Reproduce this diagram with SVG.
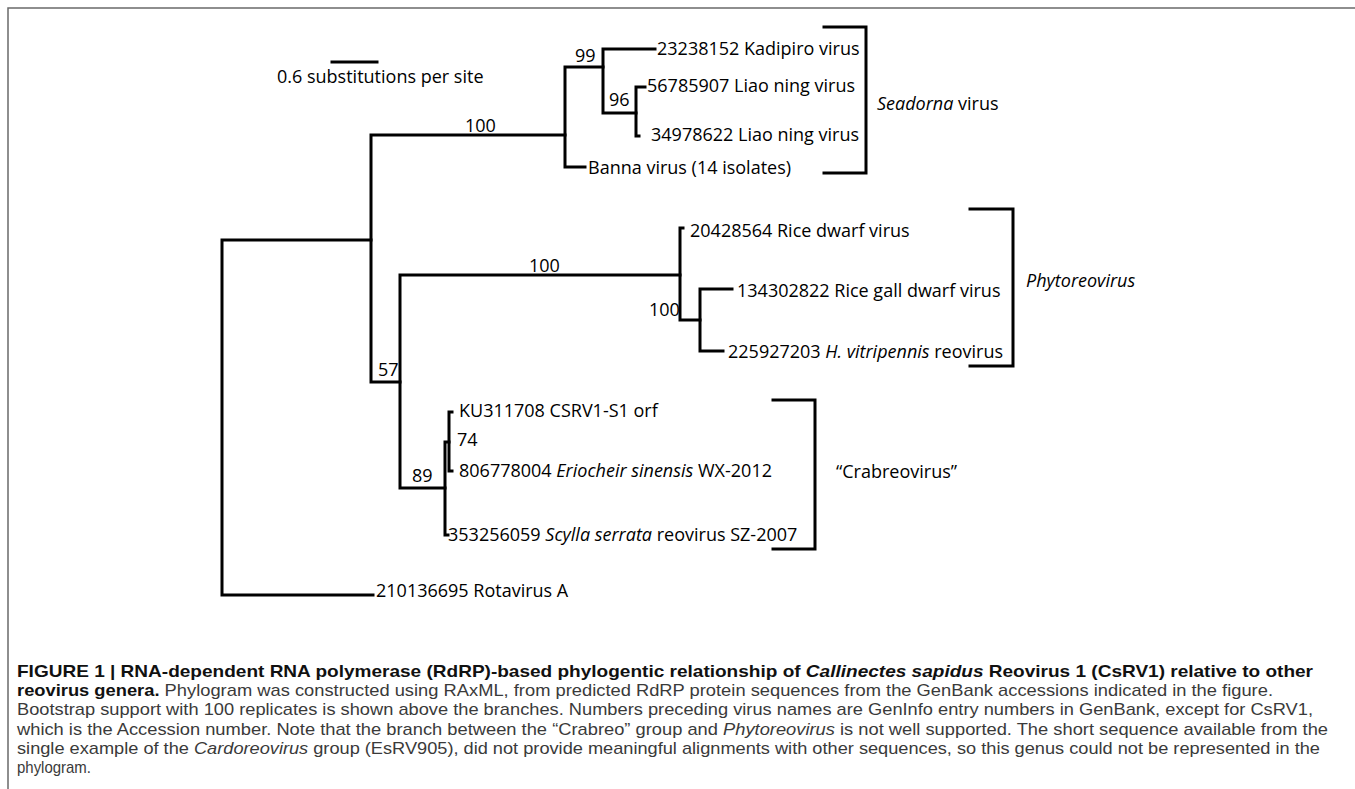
<svg xmlns="http://www.w3.org/2000/svg" width="1355" height="789" viewBox="0 0 1355 789">
<style>
.br{fill:none;stroke:#000;stroke-width:3;stroke-linecap:square;stroke-linejoin:miter}
.t{font-family:"Open Sans","Liberation Sans",sans-serif;font-size:18px;fill:#000}
.cap{font-family:"Liberation Sans",Arial,sans-serif;font-size:17px;fill:#3a3a3a}
.b{font-weight:bold;fill:#111}
.i{font-style:italic}
</style>
<rect width="1355" height="789" fill="#fff"/>
<path d="M8,789 V8 H1355" fill="none" stroke="#6a6a6a" stroke-width="1.5"/>
<g id="scale">
<path class="br" d="M332,62 H377"/>
<text class="t" x="277" y="83">0.6 substitutions per site</text>
</g>
<g id="connectors">
<path class="br" d="M222,240 V595 M222,240 H371 M222,595 H373"/>
<path class="br" d="M371,135 V382 M371,135 H565 M371,382 H400"/>
<path class="br" d="M565,67 V167 M565,67 H603 M565,167 H585"/>
<path class="br" d="M603,49 V113 M603,49 H655 M603,113 H636"/>
<path class="br" d="M636,87 V136 M636,87 H645 M636,136 H639"/>
<path class="br" d="M400,275 V488 M400,275 H680 M400,488 H445"/>
<path class="br" d="M680,228 V320 M680,228 H683 M680,320 H700"/>
<path class="br" d="M700,289 V351 M700,289 H732 M700,351 H723"/>
<path class="br" d="M445,442 V535 M445,442 H449 M445,535 H448"/>
<path class="br" d="M449,412 V471 M449,412 H452 M449,471 H452"/>
</g>
<g id="support">
<text class="t" x="465" y="132">100</text>
<text class="t" x="575" y="62">99</text>
<text class="t" x="609" y="106">96</text>
<text class="t" x="378" y="376">57</text>
<text class="t" x="529" y="272">100</text>
<text class="t" x="649" y="316">100</text>
<text class="t" x="412" y="482">89</text>
<text class="t" x="457" y="446">74</text>
</g>
<g id="leaf-kadipiro"><text class="t" x="657" y="55">23238152 Kadipiro virus</text></g>
<g id="leaf-liao1"><text class="t" x="647" y="92">56785907 Liao ning virus</text></g>
<g id="leaf-liao2"><text class="t" x="651" y="141">34978622 Liao ning virus</text></g>
<g id="leaf-banna"><text class="t" x="588" y="174">Banna virus (14 isolates)</text></g>
<g id="leaf-ricedwarf"><text class="t" x="690" y="237">20428564 Rice dwarf virus</text></g>
<g id="leaf-ricegall"><text class="t" x="737" y="297">134302822 Rice gall dwarf virus</text></g>
<g id="leaf-hvitri"><text class="t" x="728" y="358">225927203 <tspan class="i">H. vitripennis</tspan> reovirus</text></g>
<g id="leaf-csrv1"><text class="t" x="459" y="417">KU311708 CSRV1-S1 orf</text></g>
<g id="leaf-eriocheir"><text class="t" x="459" y="477">806778004 <tspan class="i">Eriocheir sinensis</tspan> WX-2012</text></g>
<g id="leaf-scylla"><text class="t" x="448" y="541">353256059 <tspan class="i">Scylla serrata</tspan> reovirus SZ-2007</text></g>
<g id="leaf-rotavirus"><text class="t" x="376" y="597">210136695 Rotavirus A</text></g>
<g id="group-seadorna">
<path class="br" d="M824,27 H866 V173 H824"/>
<text class="t" x="877" y="110"><tspan class="i">Seadorna</tspan> virus</text>
</g>
<g id="group-phyto">
<path class="br" d="M970,209 H1013 V366 H970"/>
<text class="t i" x="1026" y="287">Phytoreovirus</text>
</g>
<g id="group-crab">
<path class="br" d="M773,400 H815 V549 H773"/>
<text class="t" x="836" y="478">“Crabreovirus”</text>
</g>
<g id="caption">
<text class="cap b" x="17" y="677" textLength="1296" lengthAdjust="spacingAndGlyphs">FIGURE 1 | RNA-dependent RNA polymerase (RdRP)-based phylogentic relationship of <tspan class="i">Callinectes sapidus</tspan> Reovirus 1 (CsRV1) relative to other</text>
<text class="cap" x="17" y="696" textLength="1256" lengthAdjust="spacingAndGlyphs"><tspan class="b">reovirus genera.</tspan> Phylogram was constructed using RAxML, from predicted RdRP protein sequences from the GenBank accessions indicated in the figure.</text>
<text class="cap" x="17" y="715" textLength="1296" lengthAdjust="spacingAndGlyphs">Bootstrap support with 100 replicates is shown above the branches. Numbers preceding virus names are GenInfo entry numbers in GenBank, except for CsRV1,</text>
<text class="cap" x="17" y="735" textLength="1311" lengthAdjust="spacingAndGlyphs">which is the Accession number. Note that the branch between the “Crabreo” group and <tspan class="i">Phytoreovirus</tspan> is not well supported. The short sequence available from the</text>
<text class="cap" x="17" y="754" textLength="1303" lengthAdjust="spacingAndGlyphs">single example of the <tspan class="i">Cardoreovirus</tspan> group (EsRV905), did not provide meaningful alignments with other sequences, so this genus could not be represented in the</text>
<text class="cap" x="17" y="773" textLength="74" lengthAdjust="spacingAndGlyphs">phylogram.</text>
</g>
</svg>
